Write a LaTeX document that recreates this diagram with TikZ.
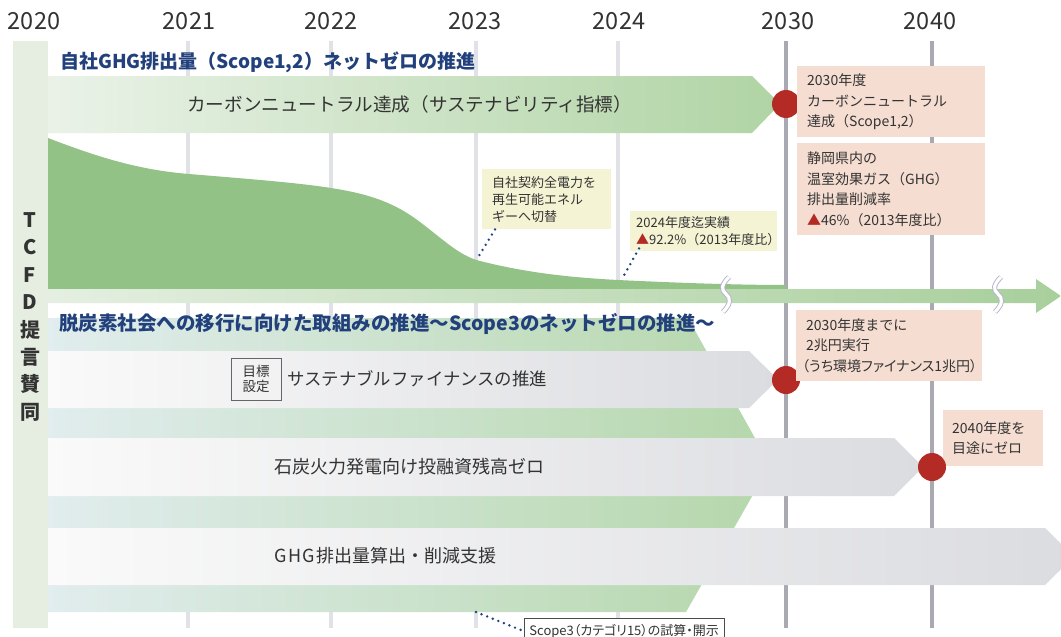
\documentclass[tikz,border=0pt]{standalone}
\usepackage{fontspec}
\setmainfont{Noto Sans CJK JP}
\newfontfamily\paltfont[RawFeature=+palt]{Noto Sans CJK JP}
\definecolor{txt}{HTML}{333333}
\definecolor{navyc}{HTML}{21407C}
\definecolor{redc}{HTML}{B42A25}
\definecolor{pinkc}{HTML}{F5DDD2}
\definecolor{yelc}{HTML}{F4F3D4}
\definecolor{areac}{HTML}{93C287}
\definecolor{gridl}{HTML}{E1E2E8}
\definecolor{gridd}{HTML}{A9A9B2}
\definecolor{tcfdc}{HTML}{E5EEE0}
\definecolor{wavec}{HTML}{B3B3CB}
\definecolor{g1l}{HTML}{EAF2E8}
\definecolor{g1r}{HTML}{B0D4A4}
\definecolor{g2l}{HTML}{E4EFE1}
\definecolor{g2r}{HTML}{A8CF9C}
\definecolor{g3l}{HTML}{E1EDEE}
\definecolor{g3r}{HTML}{B5D7AB}
\definecolor{grl}{HTML}{FAFAFA}
\definecolor{grr}{HTML}{DBDCE0}
\begin{document}
\begin{tikzpicture}[x=1pt,y=-1pt,
  yearlbl/.style={font=\fontsize{23.5}{26}\selectfont, text=txt, inner sep=0},
  headtxt/.style={font=\fontsize{19}{22}\selectfont\bfseries, text=navyc, anchor=west, inner sep=0},
  bartext/.style={font=\fontsize{18}{21}\selectfont, text=txt, anchor=west, inner sep=0},
  notebox/.style={anchor=north west, align=left, inner xsep=10, inner ysep=0, font=\fontsize{14}{20.5}\selectfont, text=txt},
  pinkbox/.style={notebox, fill=pinkc},
  yelbox/.style={notebox, fill=yelc, font=\fontsize{13}{17}\selectfont},
  dotline/.style={navyc, line width=2.7, line cap=round, dash pattern=on 0pt off 6pt},
  milestone/.style={circle, fill=redc, minimum size=28, inner sep=0},
  gridline/.style={gridl, line width=4},
  majorline/.style={gridd, line width=4},
  breakmark/.style={draw=wavec, line width=0.9, double=white, double distance=3.2}
]
\useasboundingbox (0,0) rectangle (1061,637);
\fill[white] (0,0) rectangle (1061,637);

% year labels
\node[yearlbl] (y2020) at (34,21.5) {2020};
\node[yearlbl] (y2021) at (189,21.5) {2021};
\node[yearlbl] (y2022) at (331,21.5) {2022};
\node[yearlbl] (y2023) at (475,21.5) {2023};
\node[yearlbl] (y2024) at (619,21.5) {2024};
\node[yearlbl] (y2030) at (788,21.5) {2030};
\node[yearlbl] (y2040) at (930,21.5) {2040};

% grid lines
\draw[gridline] (188,41) -- (188,628);
\draw[gridline] (331,41) -- (331,628);
\draw[gridline] (476,41) -- (476,628);
\draw[gridline] (618,41) -- (618,628);
\draw[majorline] (786,41) -- (786,628);
\draw[majorline] (932,41) -- (932,628);

% TCFD band
\fill[tcfdc] (13,41) rectangle (48,628);
\node[font=\fontsize{20}{27.4}\selectfont\bfseries, text=txt, align=center, inner sep=0] (tcfd) at (30,317) {T\\C\\F\\D\\提\\言\\賛\\同};

% top section
\node[headtxt] (h1) at (60,62) {自社GHG排出量（Scope1,2）ネットゼロの推進};
\shade[left color=g1l, right color=g1r] (48,76) -- (752,76) -- (780,104) -- (752,133) -- (48,133) -- cycle;
\node[bartext, font=\fontsize{18.6}{21}\selectfont] (cn) at (187,104) {カーボンニュートラル達成（サステナビリティ指標）};
\node[milestone] (m1) at (786,104) {};

% area chart
\fill[areac] (48,138) .. controls (100,158) and (140,170) .. (189,174)
  .. controls (250,179) and (300,183) .. (331,188)
  .. controls (370,194) and (395,203) .. (420,222)
  .. controls (445,241) and (460,256) .. (480,261)
  .. controls (520,271) and (560,277) .. (618,280)
  .. controls (680,283) and (740,285) .. (786,285)
  -- (786,289) -- (48,289) -- cycle;
\coordinate (k23) at (477,259);
\coordinate (k24) at (622,279);

% long arrow
\shade[left color=g2l, right color=g2r] (48,289) -- (1036,289) -- (1036,279) -- (1061,296) -- (1036,313) -- (1036,303) -- (48,303) -- cycle;
\draw[breakmark] (729,277) .. controls (721,285) and (721,290) .. (726,294) .. controls (731,298) and (731,304) .. (723,312);
\draw[breakmark] (1001,277) .. controls (993,285) and (993,290) .. (998,294) .. controls (1003,298) and (1003,304) .. (995,312);

% notes top
\node[pinkbox, text width=168, minimum height=71] (p1) at (797,66) {2030年度\\カーボンニュートラル\\達成（Scope1,2）};
\node[pinkbox, text width=168, minimum height=92] (p2) at (797,143) {静岡県内の\\温室効果ガス（GHG）\\排出量削減率\\{\color{redc}▲}46\%（2013年度比）};
\node[yelbox, text width=109, minimum height=60] (n1) at (482,169) {自社契約全電力を\\再生可能エネル\\ギーへ切替};
\node[yelbox, inner xsep=6, text width=135, minimum height=40] (n2) at (630,211) {2024年度迄実績\\{\color{redc}▲}92.2\%（2013年度比）};
\draw[dotline] ([xshift=13]n1.south west) -- (k23);
\draw[dotline] ([xshift=9,yshift=3]n2.south west) -- (k24);

% lower section
\shade[left color=g3l, right color=g3r] (48,318) -- (688,318) -- (770,465) -- (686,612) -- (48,612) -- cycle;
\node[headtxt, font=\fontsize{19.5}{22}\selectfont\bfseries] (h2) at (59,324) {脱炭素社会への移行に向けた取組みの推進～Scope3のネットゼロの推進～};

\shade[left color=grl, right color=grr] (48,351) -- (749,351) -- (778,379.5) -- (749,408) -- (48,408) -- cycle;
\shade[left color=grl, right color=grr] (48,438) -- (894,438) -- (923,467) -- (894,496) -- (48,496) -- cycle;
\shade[left color=grl, right color=grr] (48,528) -- (1045,528) -- (1074,556.5) -- (1045,585) -- (48,585) -- cycle;

\node[draw=black!60, fill=white!95!black, align=center, font=\fontsize{13.5}{15}\selectfont, text=txt, minimum width=50, minimum height=42, inner sep=0] (goal) at (256,379) {目標\\設定};
\node[bartext, font=\fontsize{17.4}{21}\selectfont] (sf) at (287,379) {サステナブルファイナンスの推進};
\node[bartext] (coal) at (274,467) {石炭火力発電向け投融資残高ゼロ};
\node[bartext] (ghg) at (274,556) {G\kern1.5pt H\kern1.5pt G\kern1pt 排出量算出・削減支援};

\node[milestone] (m2) at (786,380) {};
\node[pinkbox, text width=166, minimum height=71] (p3) at (796,310) {2030年度までに\\2兆円実行\\{\paltfont\hspace*{-4pt}（うち環境ファイナンス1兆円）}};
\node[pinkbox, inner xsep=9, text width=82, minimum height=56] (p4) at (943,410) {2040年度を\\目途にゼロ};
\node[milestone] (m3) at (932,467) {};

\node[draw=black!70, fill=white, anchor=north west, minimum width=200, minimum height=26, inner sep=0, font=\paltfont\fontsize{13}{14}\selectfont, text=txt] (s3) at (524,618) {Scope3（カテゴリ15）の試算・開示};
\coordinate (g23) at (476,612);
\draw[dotline] (g23) -- (s3.west);
\end{tikzpicture}
\end{document}
